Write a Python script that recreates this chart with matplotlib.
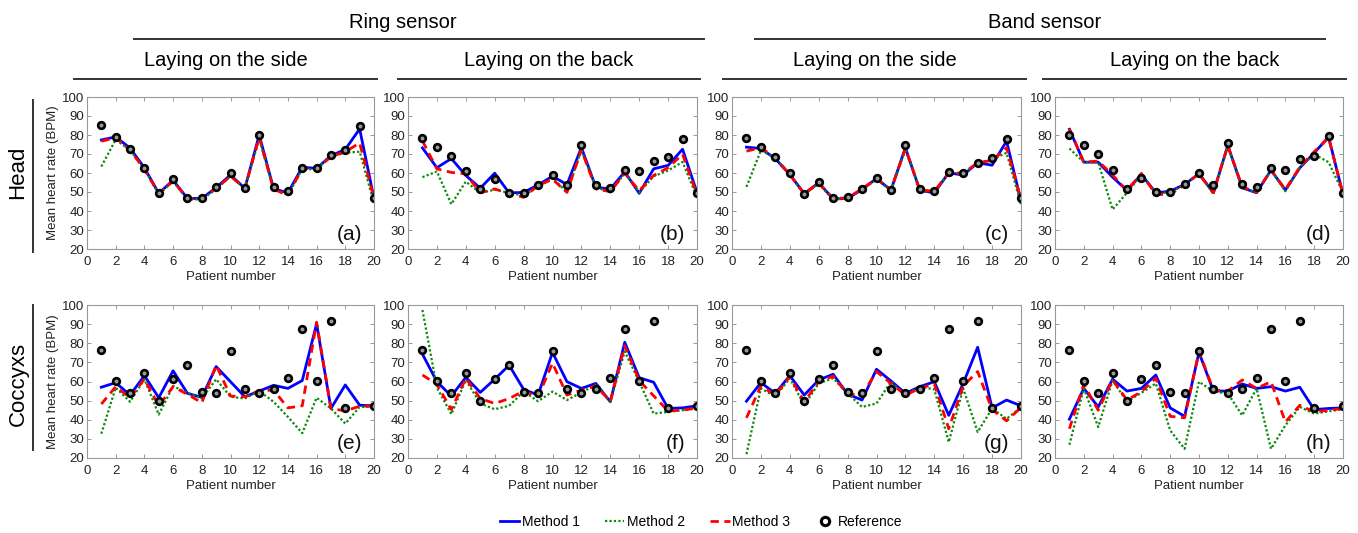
import numpy as np
import matplotlib
matplotlib.use("Agg")
import matplotlib.pyplot as plt
from matplotlib.lines import Line2D

plt.rcParams["font.family"] = ["Liberation Sans", "DejaVu Sans"]

# ----------------------------
# Data
# ----------------------------
patients = np.arange(1, 21)

# Head, ring sensor, laying on the side (a)
ref_a = [85.2, 79.0, 72.8, 62.4, 49.3, 56.7, 47.0, 47.0, 52.6, 59.9, 52.1, 80.2, 52.8, 50.7, 62.7, 62.4, 69.3, 72.3, 84.8, 46.6]
m1_a = [77.4, 79.0, 73.1, 62.7, 49.3, 56.2, 46.6, 46.6, 52.3, 59.0, 51.9, 80.0, 51.8, 49.5, 63.1, 62.4, 69.1, 72.4, 83.2, 46.6]
m2_a = [63.4, 77.6, 72.0, 62.0, 48.8, 55.5, 46.1, 46.1, 51.4, 58.3, 51.9, 77.9, 51.4, 48.4, 62.0, 62.0, 68.6, 70.7, 71.2, 44.2]
m3_a = [76.7, 78.6, 72.0, 62.0, 49.3, 55.8, 46.5, 46.6, 52.0, 58.3, 51.9, 78.8, 51.4, 48.4, 62.4, 62.0, 68.6, 71.2, 75.8, 46.6]

# Head, ring sensor, laying on the back (b)
ref_b = [78.2, 73.8, 69.0, 61.2, 51.6, 56.9, 49.5, 49.5, 53.7, 59.2, 53.7, 74.8, 53.9, 52.3, 61.7, 61.3, 66.3, 68.6, 78.0, 49.3]
m1_b = [73.2, 62.8, 67.6, 58.7, 52.0, 59.9, 49.5, 49.8, 53.7, 58.3, 53.9, 73.4, 52.5, 51.6, 60.6, 49.3, 62.2, 64.0, 72.5, 49.8]
m2_b = [57.8, 60.8, 43.6, 55.5, 49.5, 51.2, 49.5, 48.1, 52.8, 57.4, 49.8, 72.0, 52.5, 49.8, 59.9, 49.8, 58.3, 61.3, 65.8, 47.2]
m3_b = [76.9, 62.2, 60.3, 59.6, 49.6, 51.6, 49.3, 47.2, 53.4, 56.7, 49.8, 72.3, 51.6, 50.2, 59.9, 50.7, 58.7, 62.8, 69.9, 48.6]

# Head, band sensor, laying on the side (c)
ref_c = [78.6, 73.6, 68.4, 59.8, 49.2, 55.2, 46.9, 47.3, 51.8, 57.5, 51.3, 74.5, 51.8, 50.4, 60.3, 60.1, 65.4, 68.0, 78.0, 46.7]
m1_c = [73.6, 72.9, 67.5, 59.2, 49.2, 54.8, 46.4, 46.6, 51.3, 57.1, 51.0, 73.3, 50.8, 49.6, 60.1, 58.9, 65.4, 64.1, 76.8, 45.2]
m2_c = [52.7, 71.9, 68.0, 58.9, 48.7, 54.3, 46.0, 46.6, 51.3, 56.6, 50.8, 72.4, 50.8, 49.9, 60.1, 59.6, 65.4, 67.1, 70.6, 43.4]
m3_c = [71.5, 73.3, 68.0, 59.2, 49.0, 54.8, 46.6, 46.9, 51.7, 57.1, 51.1, 72.9, 51.1, 50.4, 60.1, 59.9, 65.4, 66.6, 73.3, 46.0]

# Head, band sensor, laying on the back (d)
ref_d = [79.8, 75.0, 69.9, 61.7, 51.8, 57.5, 49.9, 50.1, 54.3, 60.1, 53.8, 75.6, 54.0, 52.7, 62.4, 61.7, 67.3, 69.2, 79.3, 49.6]
m1_d = [83.0, 65.7, 65.7, 57.8, 50.8, 59.2, 49.6, 50.4, 54.0, 59.6, 49.6, 74.5, 52.2, 49.6, 61.5, 51.0, 62.7, 70.6, 78.9, 48.7]
m2_d = [72.9, 65.7, 65.7, 40.8, 49.6, 59.2, 49.6, 49.6, 54.0, 59.6, 49.0, 74.2, 52.2, 49.6, 61.5, 50.4, 63.1, 69.8, 65.7, 49.6]
m3_d = [83.3, 65.7, 66.3, 58.9, 50.8, 59.8, 48.7, 48.7, 53.8, 59.6, 49.6, 74.5, 52.7, 49.9, 61.5, 51.3, 63.1, 71.2, 78.6, 48.7]

# Coccyx reference (same in all four bottom panels, patient 19 missing)
ref_cx = [76.6, 60.5, 53.8, 64.7, 49.9, 61.2, 68.5, 54.3, 53.8, 75.7, 55.9, 53.8, 55.9, 62.0, 87.5, 60.5, 91.7, 46.4, np.nan, 47.1]

# Coccyx, ring sensor, side (e)
m1_e = [57.0, 59.4, 52.9, 63.1, 51.5, 65.6, 53.8, 51.7, 67.8, 59.9, 52.0, 55.0, 58.0, 56.4, 60.5, 90.2, 45.9, 58.2, 47.6, 47.3]
m2_e = [32.7, 56.8, 49.4, 61.2, 42.7, 57.6, 54.1, 51.1, 61.2, 52.0, 51.1, 55.0, 49.4, 41.5, 33.0, 51.5, 45.9, 38.0, 46.7, 46.7]
m3_e = [48.2, 57.3, 51.5, 61.3, 47.3, 57.3, 53.3, 48.9, 68.5, 52.4, 52.0, 55.2, 55.5, 46.2, 47.3, 91.0, 45.9, 44.6, 47.1, 47.1]

# Coccyx, ring sensor, back (f)
m1_f = [74.3, 59.9, 52.4, 62.2, 54.3, 61.2, 68.5, 55.9, 52.9, 75.2, 59.9, 56.4, 59.0, 49.4, 80.5, 62.0, 59.6, 45.9, 46.2, 47.3]
m2_f = [97.4, 56.8, 42.9, 60.8, 48.5, 45.5, 47.3, 54.7, 49.7, 54.7, 50.3, 54.3, 58.2, 49.4, 75.7, 59.9, 43.2, 44.1, 45.0, 45.9]
m3_f = [63.4, 58.5, 45.3, 61.7, 51.1, 48.5, 51.1, 55.0, 52.0, 69.6, 52.9, 55.5, 57.6, 49.6, 78.7, 60.5, 52.5, 44.6, 45.0, 46.2]

# Coccyx, band sensor, side (g)
m1_g = [49.7, 59.4, 53.8, 63.1, 52.9, 60.8, 63.8, 53.4, 50.3, 66.4, 60.3, 53.8, 57.3, 59.9, 42.3, 59.0, 77.9, 46.2, 50.3, 47.3]
m2_g = [22.0, 56.4, 52.0, 61.7, 47.6, 59.0, 61.7, 53.8, 46.7, 48.5, 59.9, 52.9, 57.3, 55.9, 28.3, 56.4, 33.6, 45.9, 40.5, 46.4]
m3_g = [41.0, 57.6, 52.9, 62.6, 49.4, 59.9, 62.8, 53.3, 52.9, 65.2, 59.0, 52.9, 56.4, 58.7, 35.3, 57.6, 65.2, 45.3, 39.4, 46.4]

# Coccyx, band sensor, back (h)
m1_h = [40.3, 56.4, 46.7, 61.2, 55.0, 56.4, 63.4, 46.2, 41.8, 75.2, 55.0, 55.0, 58.7, 56.4, 57.3, 55.0, 57.0, 45.3, 45.9, 46.2]
m2_h = [26.9, 56.4, 36.2, 60.5, 49.4, 54.1, 59.0, 34.4, 24.8, 59.9, 54.7, 53.8, 42.3, 56.4, 24.8, 37.1, 46.7, 43.2, 44.4, 45.5]
m3_h = [35.3, 58.5, 45.0, 60.8, 50.3, 54.7, 61.7, 41.8, 41.0, 75.7, 55.5, 55.0, 60.8, 56.4, 59.9, 38.8, 47.6, 44.1, 45.0, 45.9]

panels = [
    ("(a)", ref_a, m1_a, m2_a, m3_a),
    ("(b)", ref_b, m1_b, m2_b, m3_b),
    ("(c)", ref_c, m1_c, m2_c, m3_c),
    ("(d)", ref_d, m1_d, m2_d, m3_d),
    ("(e)", ref_cx, m1_e, m2_e, m3_e),
    ("(f)", ref_cx, m1_f, m2_f, m3_f),
    ("(g)", ref_cx, m1_g, m2_g, m3_g),
    ("(h)", ref_cx, m1_h, m2_h, m3_h),
]

# ----------------------------
# Layout (pixels)
# ----------------------------
W, H = 1358, 533
fig = plt.figure(figsize=(W / 100, H / 100), dpi=100)

col_x = [(87, 374), (408, 697), (732, 1021), (1055, 1343)]
row_y = [(97, 249), (305, 458)]


def rect(l, t, r, b):
    return [l / W, 1 - b / H, (r - l) / W, (b - t) / H]


def hline(x0, x1, y):
    fig.add_artist(Line2D([x0 / W, x1 / W], [1 - y / H, 1 - y / H],
                          color="#333333", lw=1.4, transform=fig.transFigure))


def vline(x, y0, y1):
    fig.add_artist(Line2D([x / W, x / W], [1 - y0 / H, 1 - y1 / H],
                          color="#333333", lw=1.4, transform=fig.transFigure))


blue = "#0000FF"
green = "#0A8A0A"
red = "#FF0000"

for i, (tag, ref, m1, m2, m3) in enumerate(panels):
    r, c = divmod(i, 4)
    ax = fig.add_axes(rect(col_x[c][0], row_y[r][0], col_x[c][1], row_y[r][1]))
    ax.plot(patients, m1, color=blue, lw=2.0, ls="-")
    ax.plot(patients, m2, color=green, lw=1.6, ls=(0, (1, 1)))
    ax.plot(patients, m3, color=red, lw=2.0, ls=(0, (3, 2)))
    ax.plot(patients, ref, ls="none", marker="o", ms=4.8, mfc="#999999",
            mec="black", mew=1.9)
    ax.set_xlim(0, 20)
    ax.set_ylim(20, 100)
    ax.set_xticks(np.arange(0, 21, 2))
    ax.set_yticks(np.arange(20, 101, 10))
    ax.tick_params(direction="in", length=3, width=0.6, colors="#888888",
                   labelcolor="#222222", labelsize=9.5, top=True, right=True)
    ax.tick_params(axis="x", pad=5)
    ax.tick_params(axis="y", pad=2)
    for s in ax.spines.values():
        s.set_color("#999999")
        s.set_linewidth(0.8)
    ax.set_xlabel("Patient number", fontsize=9.5, color="#222222", labelpad=2)
    if c == 0:
        ax.set_ylabel("Mean heart rate (BPM)", fontsize=9.5, color="#222222", labelpad=2)
    ax.text(19.2, 27.5, tag, ha="right", va="center", fontsize=15, color="#111111")

# ----------------------------
# Headers and row labels
# ----------------------------
fig.text(403 / W, 1 - 22 / H, "Ring sensor", ha="center", va="center", fontsize=14.5)
fig.text(1045 / W, 1 - 22 / H, "Band sensor", ha="center", va="center", fontsize=14.5)
hline(134, 704, 39)
hline(755, 1325, 39)

subs = [("Laying on the side", 74, 377), ("Laying on the back", 398, 700),
        ("Laying on the side", 723, 1026), ("Laying on the back", 1043, 1346)]
for label, x0, x1 in subs:
    fig.text((x0 + x1) / 2 / W, 1 - 61 / H, label, ha="center", va="center", fontsize=14.5)
    hline(x0, x1, 79)

fig.text(18 / W, 1 - 172 / H, "Head", rotation=90, ha="center", va="center", fontsize=16)
fig.text(18 / W, 1 - 384 / H, "Coccyxs", rotation=90, ha="center", va="center", fontsize=16)
vline(33, 100, 252)
vline(33, 305, 450)

# ----------------------------
# Legend
# ----------------------------
handles = [
    Line2D([], [], color=blue, lw=2.0),
    Line2D([], [], color=green, lw=1.6, ls=(0, (1, 1))),
    Line2D([], [], color=red, lw=2.0, ls=(0, (3, 2))),
    Line2D([], [], ls="none", marker="o", ms=6, mfc="white", mec="black", mew=2.2),
]
fig.legend(handles, ["Method 1", "Method 2", "Method 3", "Reference"],
           loc="center", bbox_to_anchor=(701 / W, 1 - 522 / H), ncol=4,
           frameon=False, fontsize=10, handlelength=1.4, handletextpad=0.2,
           columnspacing=1.8)

fig.savefig("out.png", dpi=100)
